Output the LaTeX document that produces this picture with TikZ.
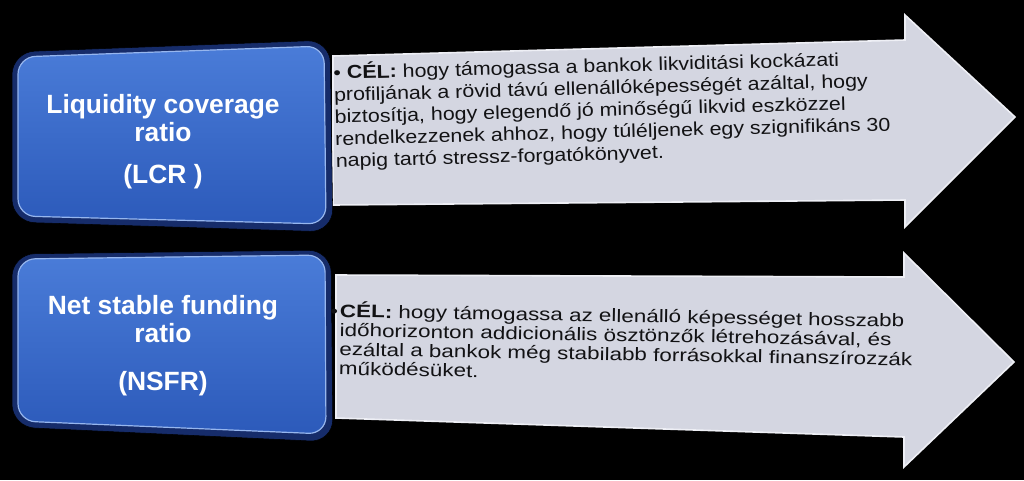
\documentclass[tikz,border=0pt]{standalone}
\usepackage{graphicx}
\usepackage{fontspec}
\setmainfont{Liberation Sans}
\newcommand{\widerow}[2]{\scalebox{#1}[1]{#2}}

\begin{document}
\begin{tikzpicture}[x=0.75pt,y=0.75pt,yscale=-1,xscale=1,
  boxrim/.style={fill={rgb, 255:red, 22; green, 44; blue, 106 }, rounded corners=17pt},
  boxface/.style={top color={rgb, 255:red, 74; green, 124; blue, 216 }, bottom color={rgb, 255:red, 44; green, 90; blue, 186 }, draw={rgb, 255:red, 150; green, 182; blue, 238 }, line width=0.9pt, rounded corners=13pt},
  arrowbody/.style={fill={rgb, 255:red, 212; green, 214; blue, 225 }, draw={rgb, 255:red, 238; green, 239; blue, 245 }, line width=1.2pt},
  boxtext/.style={inner sep=0pt, anchor=north, align=center, text=white, font=\fontsize{19.8}{21}\selectfont\bfseries},
  goaltext/.style={inner sep=0pt, anchor=north west, text={rgb, 255:red, 18; green, 18; blue, 20 }}]

\useasboundingbox (0,0) rectangle (1024,480);
\fill [black] (0,0) rectangle (1024,480);

% arrows behind the boxes
\draw [arrowbody] (333,56) -- (905,40) -- (905,15) -- (1015,117) -- (905,227) -- (905,200) -- (333,205) -- cycle;
\draw [arrowbody] (336,275) -- (904,277) -- (904,253) -- (1014,362) -- (904,467) -- (904,437) -- (336,418) -- cycle;

% blue boxes
\draw [boxrim] (12,52) -- (330,40) -- (333,232) -- (12,222) -- cycle;
\draw [boxface] (18,57) -- (324,46) -- (326,224) -- (18,216) -- cycle;
\draw [boxrim] (12,254) -- (331,250) -- (333,442) -- (12,427) -- cycle;
\draw [boxface] (18,259) -- (325,255) -- (326,434) -- (18,421) -- cycle;

% labels
\draw (163,94) node [boxtext] (lcr) {Liquidity coverage\\ratio\\[10.5pt](LCR )};
\draw (163,295) node [boxtext] (nsfr) {Net stable funding\\ratio\\[15pt](NSFR)};

\draw (333,62.5) node [goaltext, rotate=1.5, font=\fontsize{14}{16.5}\selectfont] (lcrgoal) {\widerow{1.146}{\begin{tabular}{@{}l@{}}
\textbullet\ \textbf{CÉL:} hogy támogassa a bankok likviditási kockázati\\
profiljának a rövid távú ellenállóképességét azáltal, hogy\\
biztosítja, hogy elegendő jó minőségű likvid eszközzel\\
rendelkezzenek ahhoz, hogy túléljenek egy szignifikáns 30\\
napig tartó stressz-forgatókönyvet.
\end{tabular}}};
\draw (340,301) node [goaltext, rotate=-1, font=\fontsize{13.5}{14.4}\selectfont] (nsfrgoal) {\widerow{1.245}{\begin{tabular}{@{}l@{}}
\llap{\textbullet\hspace{1.2pt}}\textbf{CÉL:} hogy támogassa az ellenálló képességet hosszabb\\
időhorizonton addicionális ösztönzők létrehozásával, és\\
ezáltal a bankok még stabilabb forrásokkal finanszírozzák\\
működésüket.
\end{tabular}}};
\end{tikzpicture}
\end{document}
